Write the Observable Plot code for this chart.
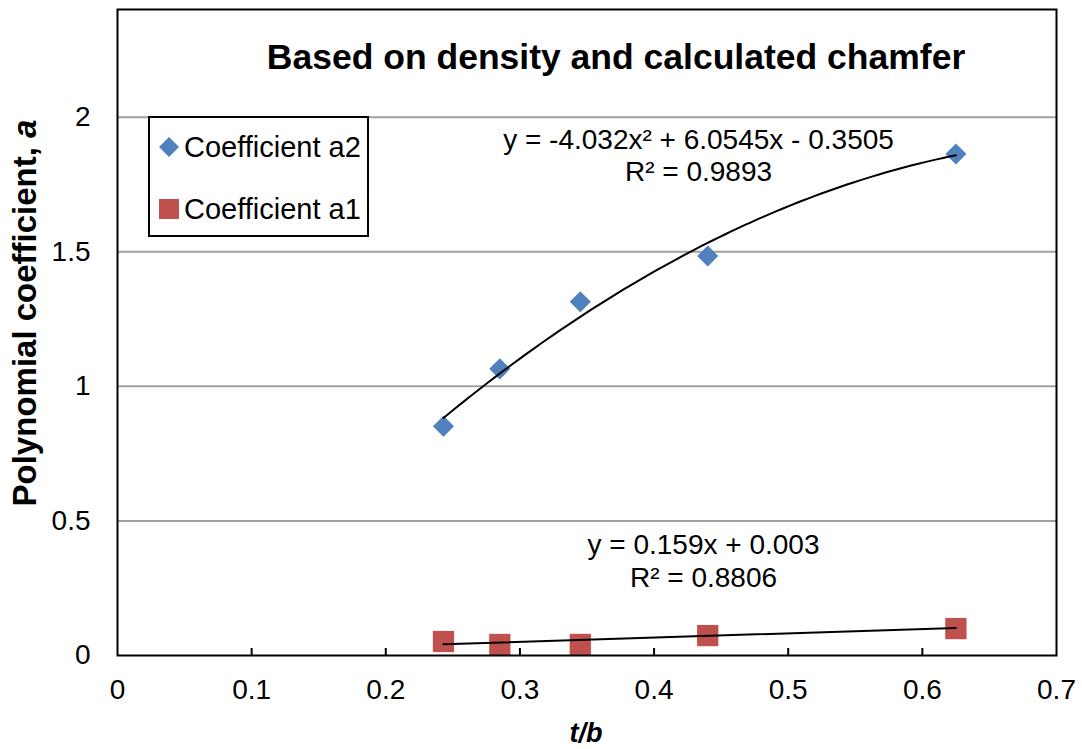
<!DOCTYPE html>
<html><head><meta charset="utf-8">
<script src="https://cdn.jsdelivr.net/npm/d3@7"></script>
<script src="https://cdn.jsdelivr.net/npm/@observablehq/plot@0.6"></script>
<style>
body{margin:0;background:#fff;font-family:"Liberation Sans",Arial,sans-serif;}
#wrap{position:relative;width:1082px;height:749px;overflow:hidden;}
.ov{position:absolute;white-space:nowrap;color:#000;line-height:1;}
#legend{position:absolute;left:148px;top:116px;width:217px;height:117px;border:2px solid #000;background:#fff;}
.li{position:absolute;left:0;display:flex;align-items:center;font-size:29px;}
.li svg{margin-left:8px;margin-right:4px;}
</style></head><body><div id="wrap"></div>
<script>
// Data
const tb = [0.243, 0.285, 0.345, 0.440, 0.625];
const a2 = [0.852, 1.065, 1.314, 1.484, 1.863];
const a1 = [0.052, 0.041, 0.041, 0.074, 0.100];
const seriesNames = ["Coefficient a2", "Coefficient a1"];
const seriesColors = ["#4F81BD", "#C0504D"];
// Trendline coefficients shown on the chart
const a2Fit = [-4.032, 6.0545, -0.3505]; // x^2, x, constant
const a1Fit = [0.159, 0.003];            // x, constant
const a2Eq = ["y = -4.032x² + 6.0545x - 0.3505", "R² = 0.9893"];
const a1Eq = ["y = 0.159x + 0.003", "R² = 0.8806"];
const xTicks = [0, 0.1, 0.2, 0.3, 0.4, 0.5, 0.6, 0.7];
const yTicks = [0, 0.5, 1, 1.5, 2];
const title = "Based on density and calculated chamfer";

const font = '"Liberation Sans", Arial, sans-serif';
const a2Data = tb.map((x, i) => ({x, y: a2[i]}));
const a1Data = tb.map((x, i) => ({x, y: a1[i]}));
const x0 = d3.min(tb), x1 = d3.max(tb);
const samples = d3.range(0, 81).map(i => x0 + (x1 - x0) * i / 80);
const a2Curve = samples.map(x => ({x, y: a2Fit[0] * x * x + a2Fit[1] * x + a2Fit[2]}));
const a1Curve = [x0, x1].map(x => ({x, y: a1Fit[0] * x + a1Fit[1]}));

const chart = Plot.plot({
  width: 1082, height: 749,
  marginLeft: 117, marginRight: 26, marginTop: 9, marginBottom: 94,
  style: {fontFamily: font, fontSize: "28px", color: "#000", background: "#fff", overflow: "visible"},
  x: {domain: [0, 0.7]},
  y: {domain: [0, 2.4]},
  marks: [
    Plot.gridY(yTicks.filter(v => v > 0), {stroke: "#a0a0a0", strokeOpacity: 1, strokeWidth: 2}),
    Plot.axisX(xTicks, {tickSize: 0, tickPadding: 24, label: null, fontSize: 28, tickFormat: d => String(d)}),
    Plot.axisY(yTicks, {tickSize: 0, tickPadding: 27, label: null, fontSize: 28, tickFormat: d => String(d)}),
    Plot.ruleX(xTicks.slice(1, -1), {x: d => d, y1: 0, y2: 0, insetTop: -7, stroke: "#000", strokeWidth: 2}),
    Plot.dot(a1Data, {x: "x", y: "y", symbol: "square", r: 12, fill: seriesColors[1], stroke: "none"}),
    Plot.dot(a2Data, {x: "x", y: "y", symbol: "diamond2", r: 9.5, fill: seriesColors[0], stroke: "none"}),
    Plot.line(a2Curve, {x: "x", y: "y", stroke: "#000", strokeWidth: 2, curve: "linear"}),
    Plot.line(a1Curve, {x: "x", y: "y", stroke: "#000", strokeWidth: 2}),
    Plot.frame({stroke: "#000", strokeWidth: 2}),
    Plot.text([title], {frameAnchor: "top", dx: 29, dy: 48, lineAnchor: "middle", fontWeight: "bold", fontSize: 35.5}),
    Plot.text([a2Eq[0]], {frameAnchor: "top-left", textAnchor: "middle", lineAnchor: "middle", dx: 581, dy: 131, fontSize: 28}),
    Plot.text([a2Eq[1]], {frameAnchor: "top-left", textAnchor: "middle", lineAnchor: "middle", dx: 581, dy: 163, fontSize: 28}),
    Plot.text([a1Eq[0]], {frameAnchor: "top-left", textAnchor: "middle", lineAnchor: "middle", dx: 586, dy: 536, fontSize: 28}),
    Plot.text([a1Eq[1]], {frameAnchor: "top-left", textAnchor: "middle", lineAnchor: "middle", dx: 586, dy: 569, fontSize: 28})
  ]
});

const wrap = document.getElementById("wrap");
wrap.appendChild(chart);

// Legend
const legend = document.createElement("div");
legend.id = "legend";
const sym = [
  '<svg width="22" height="22" viewBox="-11 -11 22 22"><path d="M0,-10L10,0L0,10L-10,0Z" fill="' + seriesColors[0] + '"/></svg>',
  '<svg width="22" height="22" viewBox="-11 -11 22 22"><rect x="-10" y="-10" width="20" height="20" fill="' + seriesColors[1] + '"/></svg>'
];
const legendTops = [12, 74];
seriesNames.forEach((name, i) => {
  const item = document.createElement("div");
  item.className = "li";
  item.style.top = legendTops[i] + "px";
  item.style.height = "34px";
  item.innerHTML = sym[i] + "<span>" + name + "</span>";
  legend.appendChild(item);
});
wrap.appendChild(legend);

// Axis titles
const xl = document.createElement("div");
xl.className = "ov";
xl.style.cssText += "left:586px;top:733px;transform:translate(-50%,-50%);font-weight:bold;font-style:italic;font-size:27px;";
xl.textContent = "t/b";
wrap.appendChild(xl);

const yl = document.createElement("div");
yl.className = "ov";
yl.style.cssText += "left:24px;top:313px;transform:translate(-50%,-50%) rotate(-90deg);font-weight:bold;font-size:33px;";
yl.innerHTML = "Polynomial coefficient, <i>a</i>";
wrap.appendChild(yl);
</script>
</body></html>
